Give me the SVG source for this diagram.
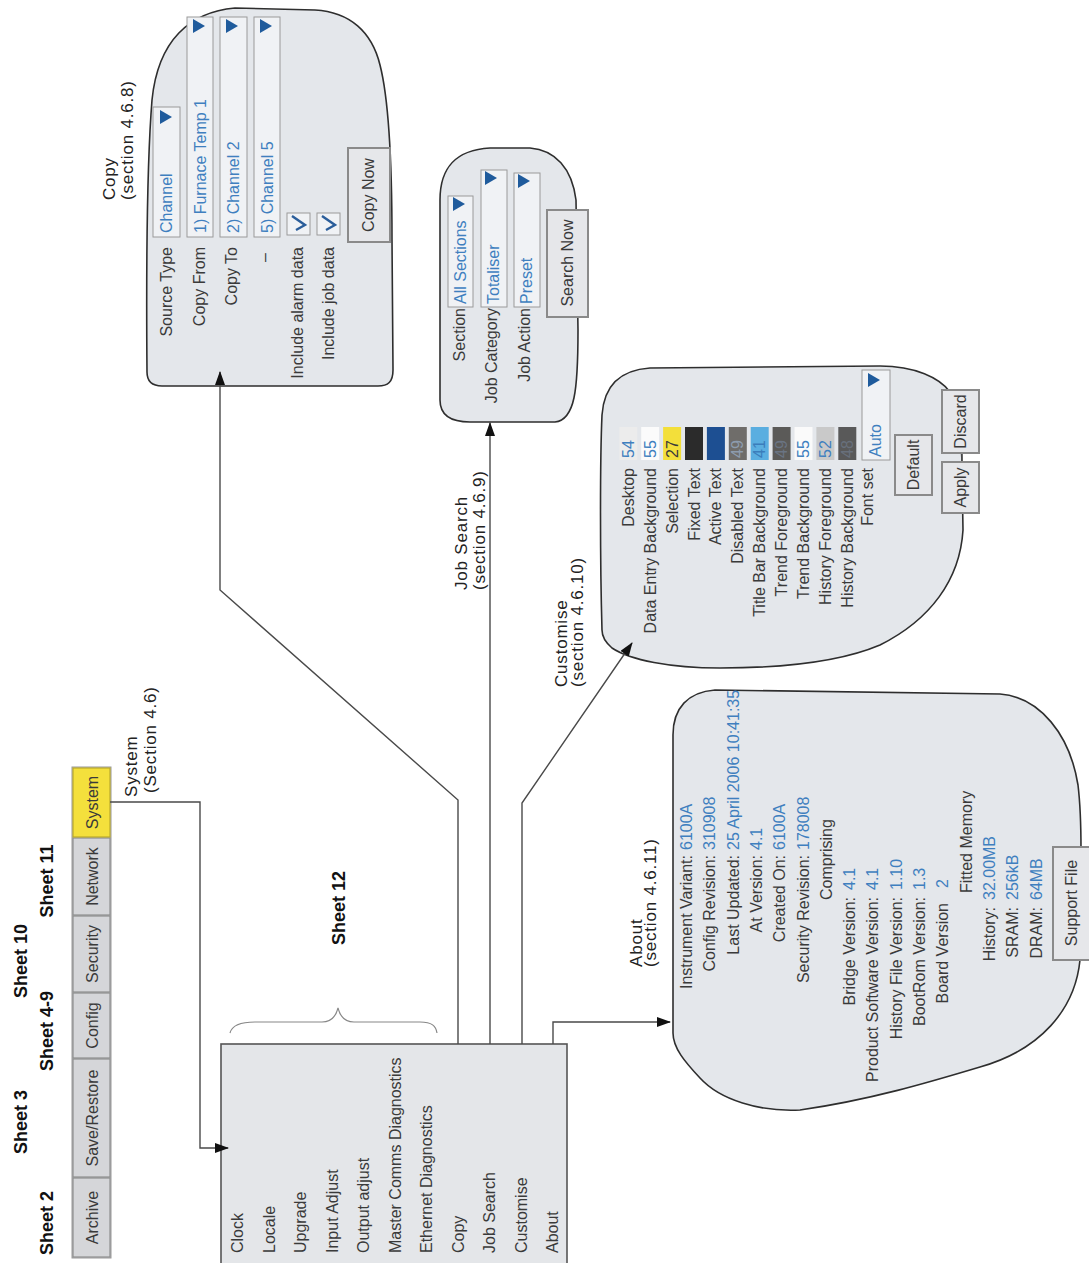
<svg xmlns="http://www.w3.org/2000/svg" width="1089" height="1263" viewBox="0 0 1089 1263">
<style>
text{font-family:"Liberation Sans",Arial,sans-serif}
.lb{font-size:16px;fill:#3a3a3a}
.vl{font-size:16px;fill:#3f7fbf}
.sh{font-size:18px;font-weight:bold;fill:#111}
.cp{font-size:17px;fill:#222;letter-spacing:0.8px}
.blob{fill:#e4e7eb;stroke:#2e2e2e;stroke-width:1.6}
.cn{fill:none;stroke:#4a4a4a;stroke-width:1.4}
.fd{fill:#f0f2f5;stroke:#9a9a9a;stroke-width:1}
.bt{fill:#e6e7ea;stroke:#8a8a8a;stroke-width:2}
.tab{fill:#d5d6d9;stroke:#8e8e8e;stroke-width:1.2}
.tri{fill:#1f5b9c}
.mid{text-anchor:middle}
.end{text-anchor:end}
.sw{stroke:none}
</style>
<defs>
<marker id="ah" markerWidth="14" markerHeight="10" refX="13" refY="5" orient="auto" markerUnits="userSpaceOnUse"><path d="M0,0 L14,5 L0,10 Z" fill="#111"/></marker>
</defs>

<!-- Tabs -->
<g id="tabs">
<g transform="matrix(0,-1,1,0,0,1263)">
<rect x="5" y="72" width="491" height="39" fill="#c8c9cc" stroke="#9a9a9a"/>
<rect class="tab" x="6" y="73" width="79" height="37"/>
<rect class="tab" x="86" y="73" width="118" height="37"/>
<rect class="tab" x="205" y="73" width="65" height="37"/>
<rect class="tab" x="271" y="73" width="76" height="37"/>
<rect class="tab" x="348" y="73" width="77" height="37"/>
<rect x="426" y="73" width="69" height="37" fill="#f4e03c" stroke="#b9a92a" stroke-width="1.2"/>
<text class="lb mid" x="45.5" y="98">Archive</text>
<text class="lb mid" x="145" y="98">Save/Restore</text>
<text class="lb mid" x="237.5" y="98">Config</text>
<text class="lb mid" x="309" y="98">Security</text>
<text class="lb mid" x="386.5" y="98">Network</text>
<text class="lb mid" x="460.5" y="98">System</text>
</g>
</g>

<!-- Sheet labels -->
<g id="sheets">
<g transform="matrix(0,-1,1,0,0,1263)">
<text class="sh mid" x="40" y="53">Sheet 2</text>
<text class="sh mid" x="141" y="27">Sheet 3</text>
<text class="sh mid" x="232" y="53">Sheet 4-9</text>
<text class="sh mid" x="302" y="27">Sheet 10</text>
<text class="sh mid" x="382" y="53">Sheet 11</text>
<text class="sh" x="318" y="345">Sheet 12</text>
</g>
<path d="M230,1033 C232,1025 240,1022 255,1022 L322,1022 C332,1022 336,1016 338,1008 C340,1016 344,1022 354,1022 L420,1022 C432,1022 436,1026 437,1033" fill="none" stroke="#888" stroke-width="1.2"/>
</g>

<!-- Main menu -->
<g id="menu">
<rect x="221" y="1044" width="346" height="225" fill="#e4e6e9" stroke="#555" stroke-width="1.6"/>
<g transform="matrix(0,-1,1,0,0,1263)">
<text class="lb" x="10" y="243">Clock</text>
<text class="lb" x="10" y="274.5">Locale</text>
<text class="lb" x="10" y="306">Upgrade</text>
<text class="lb" x="10" y="337.5">Input Adjust</text>
<text class="lb" x="10" y="369">Output adjust</text>
<text class="lb" x="10" y="400.5">Master Comms Diagnostics</text>
<text class="lb" x="10" y="432">Ethernet Diagnostics</text>
<text class="lb" x="10" y="463.5">Copy</text>
<text class="lb" x="10" y="495">Job Search</text>
<text class="lb" x="10" y="526.5">Customise</text>
<text class="lb" x="10" y="558">About</text>
</g>
</g>

<!-- Copy -->
<g id="copy">
<path class="blob" d="M147,372 C146,250 148,150 152,100 C158,40 190,12 235,8 L315,10 C350,12 372,32 380,65 C389,100 392,160 392,240 L393,370 C393,382 388,386 378,386 L162,386 C152,386 147,382 147,372 Z"/>
<g transform="matrix(0,-1,1,0,0,1263)">
<text class="lb end" x="1016" y="172">Source Type</text>
<text class="lb end" x="1016" y="205">Copy From</text>
<text class="lb end" x="1016" y="237">Copy To</text>
<text class="lb end" x="1010" y="270">–</text>
<text class="lb end" x="1016" y="303">Include alarm data</text>
<text class="lb end" x="1016" y="334">Include job data</text>
<rect class="fd" x="1026" y="153" width="130" height="27"/>
<text class="vl" x="1030" y="172">Channel</text>
<polygon class="tri" points="1139,160 1153,160 1146,172"/>
<rect class="fd" x="1026" y="187" width="220" height="26"/>
<text class="vl" x="1030" y="206">1) Furnace Temp 1</text>
<polygon class="tri" points="1230,193 1244,193 1237,205"/>
<rect class="fd" x="1026" y="220" width="220" height="27"/>
<text class="vl" x="1030" y="239">2) Channel 2</text>
<polygon class="tri" points="1230,226 1244,226 1237,238"/>
<rect class="fd" x="1026" y="254" width="220" height="26"/>
<text class="vl" x="1030" y="273">5) Channel 5</text>
<polygon class="tri" points="1230,260 1244,260 1237,272"/>
<rect class="fd" x="1028" y="287" width="22" height="23"/>
<path d="M1033,296 L1038,305 L1047,292" fill="none" stroke="#2a5d9a" stroke-width="2.4"/>
<rect class="fd" x="1028" y="317" width="22" height="23"/>
<path d="M1033,326 L1038,335 L1047,322" fill="none" stroke="#2a5d9a" stroke-width="2.4"/>
<rect class="bt" x="1021" y="348" width="94" height="42"/>
<text class="lb mid" x="1068" y="374">Copy Now</text>
</g>
</g>

<!-- Job Search -->
<g id="jobsearch">
<path class="blob" d="M440,400 L440,200 C440,168 455,150 490,148 L530,148 C555,150 572,168 576,200 L578,330 C578,390 575,420 555,422 L470,422 C450,422 440,415 440,400 Z"/>
<g transform="matrix(0,-1,1,0,0,1263)">
<text class="lb end" x="955" y="465">Section</text>
<text class="lb end" x="955" y="497">Job Category</text>
<text class="lb end" x="955" y="530">Job Action</text>
<rect class="fd" x="956" y="448" width="111" height="25"/>
<text class="vl" x="959" y="466">All Sections</text>
<polygon class="tri" points="1052,453 1066,453 1059,465"/>
<rect class="fd" x="956" y="481" width="137" height="26"/>
<text class="vl" x="959" y="499">Totaliser</text>
<polygon class="tri" points="1078,485 1092,485 1085,497"/>
<rect class="fd" x="956" y="514" width="134" height="26"/>
<text class="vl" x="959" y="532">Preset</text>
<polygon class="tri" points="1075,518 1089,518 1082,530"/>
<rect class="bt" x="946" y="547" width="107" height="41"/>
<text class="lb mid" x="1000" y="573">Search Now</text>
</g>
</g>

<!-- Customise -->
<g id="customise">
<path class="blob" d="M602,630 C600,560 600,460 602,415 C604,385 620,370 650,368 L880,366 C915,366 940,378 950,392 C958,410 962,440 962,470 L963,530 C960,580 930,620 880,645 C840,662 780,668 720,668 C670,668 630,660 612,648 C605,642 602,636 602,630 Z"/>
<g transform="matrix(0,-1,1,0,0,1263)">
<text class="lb end" x="795" y="633.8">Desktop</text>
<text class="lb end" x="795" y="655.7">Data Entry Background</text>
<text class="lb end" x="795" y="677.6">Selection</text>
<text class="lb end" x="795" y="699.5">Fixed Text</text>
<text class="lb end" x="795" y="721.4">Active Text</text>
<text class="lb end" x="795" y="743.3">Disabled Text</text>
<text class="lb end" x="795" y="765.2">Title Bar Background</text>
<text class="lb end" x="795" y="787.1">Trend Foreground</text>
<text class="lb end" x="795" y="809">Trend Background</text>
<text class="lb end" x="795" y="830.9">History Foreground</text>
<text class="lb end" x="795" y="852.8">History Background</text>
<text class="lb end" x="795" y="873">Font set</text>
<rect class="sw" x="803" y="619.3" width="33" height="18" fill="#ececec"/>
<rect class="sw" x="803" y="641.2" width="33" height="18" fill="#fbfbfb"/>
<rect class="sw" x="803" y="663.1" width="33" height="18" fill="#f3df3a"/>
<rect class="sw" x="803" y="685" width="33" height="18" fill="#2b2b2b"/>
<rect class="sw" x="803" y="706.9" width="33" height="18" fill="#1d4f92"/>
<rect class="sw" x="803" y="728.8" width="33" height="18" fill="#6f6d6a"/>
<rect class="sw" x="803" y="750.7" width="33" height="18" fill="#5aaee0"/>
<rect class="sw" x="803" y="772.6" width="33" height="18" fill="#5b5a58"/>
<rect class="sw" x="803" y="794.5" width="33" height="18" fill="#fafafa"/>
<rect class="sw" x="803" y="816.4" width="33" height="18" fill="#c9c9c9"/>
<rect class="sw" x="803" y="838.3" width="33" height="18" fill="#595959"/>
<text class="vl" x="805" y="633.8">54</text>
<text class="vl" x="805" y="655.7">55</text>
<text class="lb" x="805" y="677.6" fill="#6b6030">27</text>
<text class="vl" x="805" y="743.3" style="fill:#8d9cae">49</text>
<text class="vl" x="805" y="765.2" style="fill:#3b7dbb">41</text>
<text class="vl" x="805" y="787.1" style="fill:#6a7483">49</text>
<text class="vl" x="805" y="809">55</text>
<text class="vl" x="805" y="830.9">52</text>
<text class="vl" x="805" y="852.8" style="fill:#68707c">48</text>
<rect class="fd" x="803" y="862" width="90" height="28"/>
<text class="vl" x="806" y="881">Auto</text>
<polygon class="tri" points="876,868 890,868 883,880"/>
<rect class="bt" x="768" y="895" width="60" height="37"/>
<text class="lb mid" x="798" y="919">Default</text>
<line x1="801" y1="962" x2="810" y2="962" stroke="#555" stroke-width="1.4"/>
<rect class="bt" x="750" y="942" width="51" height="37"/>
<text class="lb mid" x="775.5" y="966">Apply</text>
<rect class="bt" x="810" y="942" width="63" height="37"/>
<text class="lb mid" x="841.5" y="966">Discard</text>
</g>
</g>

<!-- About -->
<g id="about">
<path class="blob" d="M673,1033 L673,735 C673,708 688,692 715,690 L1000,694 C1040,697 1070,735 1078,785 C1081,810 1081,830 1081,850 L1080,960 C1075,1010 1040,1050 980,1067 C930,1082 870,1100 800,1110 C760,1112 720,1100 700,1078 C685,1062 673,1048 673,1033 Z"/>
<g transform="matrix(0,-1,1,0,0,1263)">
<text class="lb end" x="408" y="692">Instrument Variant:</text>
<text class="vl" x="413" y="692">6100A</text>
<text class="lb end" x="408" y="715.3">Config Revision:</text>
<text class="vl" x="413" y="715.3">310908</text>
<text class="lb end" x="408" y="738.6">Last Updated:</text>
<text class="vl" x="413" y="738.6">25 April 2006 10:41:35</text>
<text class="lb end" x="408" y="761.9">At Version:</text>
<text class="vl" x="413" y="761.9">4.1</text>
<text class="lb end" x="408" y="785.2">Created On:</text>
<text class="vl" x="413" y="785.2">6100A</text>
<text class="lb end" x="408" y="808.5">Security Revision:</text>
<text class="vl" x="413" y="808.5">178008</text>
<text class="lb" x="363" y="831.8">Comprising</text>
<text class="lb end" x="366" y="855.1">Bridge Version:</text>
<text class="vl" x="373" y="855.1">4.1</text>
<text class="lb end" x="366" y="878.4">Product Software Version:</text>
<text class="vl" x="373" y="878.4">4.1</text>
<text class="lb end" x="366" y="901.7">History File Version:</text>
<text class="vl" x="373" y="901.7">1.10</text>
<text class="lb end" x="366" y="925">BootRom Version:</text>
<text class="vl" x="373" y="925">1.3</text>
<text class="lb end" x="360" y="948.3">Board Version</text>
<text class="vl" x="375" y="948.3">2</text>
<text class="lb" x="370" y="971.6">Fitted Memory</text>
<text class="lb end" x="356" y="994.9">History:</text>
<text class="vl" x="363" y="994.9">32.00MB</text>
<text class="lb end" x="356" y="1018.2">SRAM:</text>
<text class="vl" x="363" y="1018.2">256kB</text>
<text class="lb end" x="356" y="1041.5">DRAM:</text>
<text class="vl" x="363" y="1041.5">64MB</text>
<rect class="bt" x="303" y="1053" width="113" height="40"/>
<text class="lb mid" x="360" y="1077">Support File</text>
</g>
</g>

<!-- Connectors -->
<g id="connectors">
<g transform="matrix(0,-1,1,0,0,1263)">
<path class="cn" d="M461,110 V200 H115 V228" marker-end="url(#ah)"/>
<path class="cn" d="M219,458 H463 L673,220 H891" marker-end="url(#ah)"/>
<path class="cn" d="M219,490 H840" marker-end="url(#ah)"/>
<path class="cn" d="M219,522 H460 L620,632" marker-end="url(#ah)"/>
<path class="cn" d="M219,553 H241 V670" marker-end="url(#ah)"/>
<text class="cp" x="466" y="137">System</text>
<text class="cp" x="470" y="156">(Section 4.6)</text>
<text class="cp" x="1063" y="115">Copy</text>
<text class="cp" x="1063" y="133">(section 4.6.8)</text>
<text class="cp" x="673" y="467">Job Search</text>
<text class="cp" x="673" y="485">(section 4.6.9)</text>
<text class="cp" x="576" y="567">Customise</text>
<text class="cp" x="576" y="583">(section 4.6.10)</text>
<text class="cp" x="296" y="642">About</text>
<text class="cp" x="296" y="656">(section 4.6.11)</text>
</g>
</g>
</svg>
